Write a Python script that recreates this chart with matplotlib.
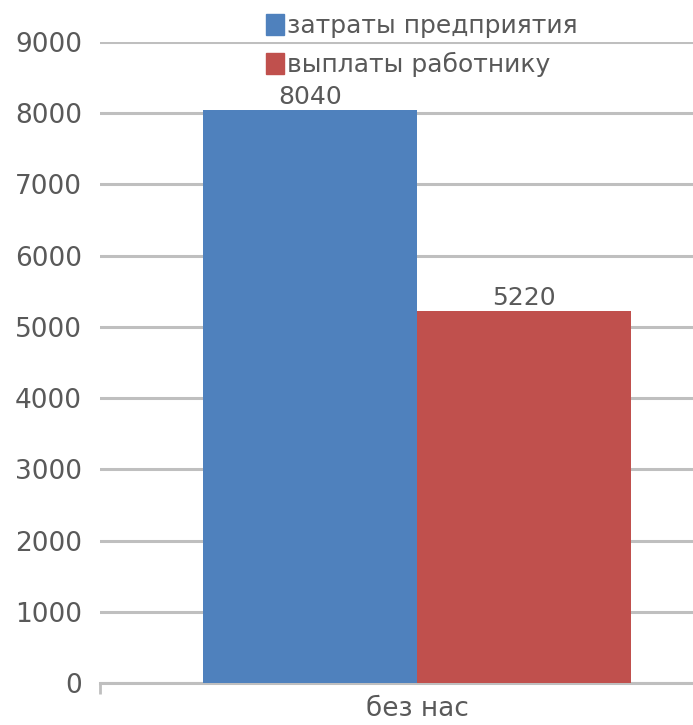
import matplotlib
matplotlib.use("Agg")
import matplotlib.pyplot as plt
import matplotlib.patches as mpatches

# data
category = "без нас"
series = ["затраты предприятия", "выплаты работнику"]
values = [8040, 5220]
colours = ["#4F81BD", "#C0504D"]
yticks = [0, 1000, 2000, 3000, 4000, 5000, 6000, 7000, 8000, 9000]

txt = "#595959"
grid = "#BFBFBF"

fig = plt.figure(figsize=(6.93, 7.25), dpi=100)
ax = fig.add_axes([100/693, 42/725, 634/693, 641/725])

offsets = [-0.5, 0.5]
for off, val, col, name in zip(offsets, values, colours, series):
    b = ax.bar(off, val, width=1.0, color=col, label=name, zorder=3)
    ax.bar_label(b, labels=[str(val)], padding=1, fontsize=18, color=txt)

ax.set_xlim(-1.48, 1.48)
ax.set_ylim(0, 9000)
ax.set_yticks(yticks)
ax.set_yticklabels([str(t) for t in yticks], fontsize=19, color=txt)
ax.tick_params(axis="y", length=0, pad=13)
ax.yaxis.grid(True, color=grid, linewidth=2.2, zorder=0)
ax.set_axisbelow(True)

ax.set_xticks([0])
ax.set_xticklabels([category], fontsize=19, color=txt)
ax.set_xticks([-1.48], minor=True)
ax.tick_params(axis="x", which="major", length=0, pad=9)
ax.tick_params(axis="x", which="minor", length=8, width=2, color=grid)

for s in ["top", "right", "left"]:
    ax.spines[s].set_visible(False)
ax.spines["bottom"].set_color(grid)
ax.spines["bottom"].set_linewidth(2.2)

handles = [mpatches.Patch(color=c, label=n) for c, n in zip(colours, series)]
fig.legend(handles=handles, loc="upper left", bbox_to_anchor=(266/693, 1 - 14/725),
           frameon=False, fontsize=18, handlelength=0.7, handleheight=0.9,
           handletextpad=0.15, borderpad=0, borderaxespad=0, labelspacing=0.55,
           labelcolor=txt)

fig.savefig("out.png", dpi=100)
